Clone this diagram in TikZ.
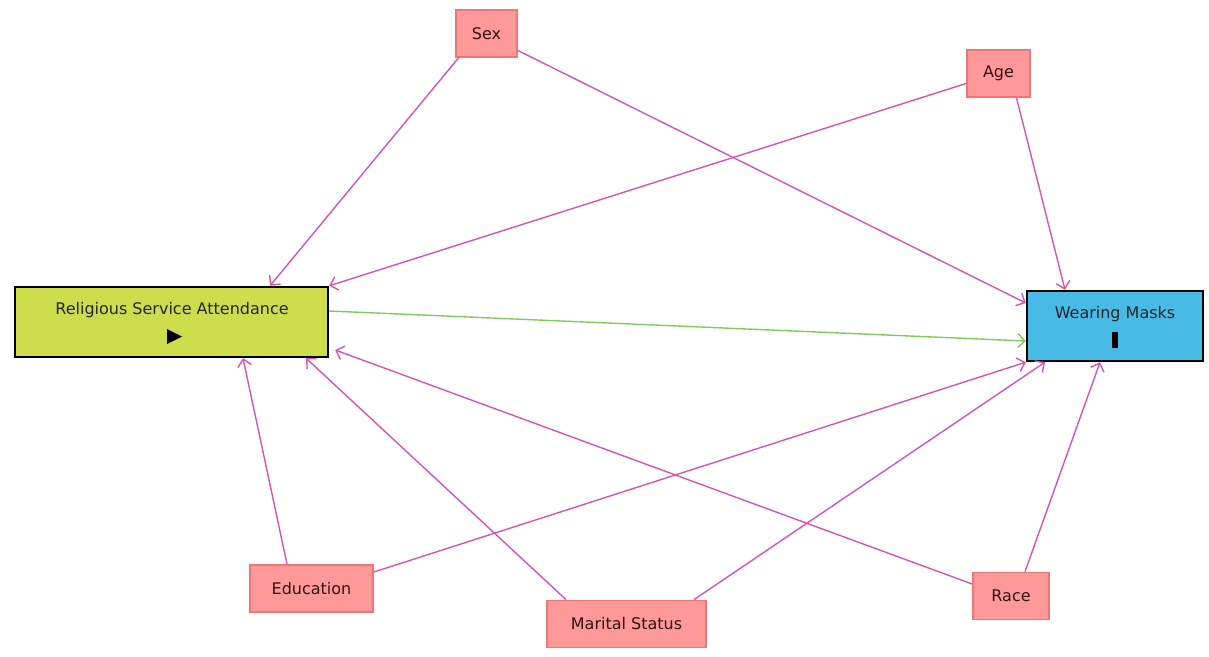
\documentclass[tikz,border=0pt]{standalone}
\usepackage{fontspec}
\setmainfont{DejaVu Sans}
\usetikzlibrary{arrows.meta}
\definecolor{relfill}{RGB}{206,221,75}
\definecolor{wearfill}{RGB}{72,186,230}
\definecolor{covfill}{RGB}{255,152,152}
\definecolor{covdraw}{RGB}{240,118,118}
\definecolor{covtext}{RGB}{50,20,20}
\definecolor{pinkarrow}{RGB}{214,84,178}
\definecolor{greenarrow}{RGB}{128,204,88}
\tikzset{
  mainbox/.style={draw=black, line width=2.4pt, minimum height=70pt, inner sep=0pt},
  covbox/.style={draw=covdraw, fill=covfill, line width=1.8pt, minimum height=47pt, inner sep=0pt, text=covtext, font=\fontsize{16}{19}\selectfont},
  mainlabel/.style={font=\fontsize{16}{19}\selectfont, text=black!85},
  pinkedge/.style={draw=pinkarrow, line width=1.4pt, -{Straight Barb[length=7pt,width=14pt]}},
  greenedge/.style={draw=greenarrow, line width=1.4pt, -{Straight Barb[length=7pt,width=14pt]}}
}
\begin{document}
\begin{tikzpicture}[x=1pt,y=-1pt]
\useasboundingbox (0,0) rectangle (1209,656);
\node[mainbox, fill=relfill, minimum width=313pt] (rel) at (171.5,322) {};
\node[mainlabel] (reltext) at (172,310) {Religious Service Attendance};
\fill (167,329) -- (182,336.5) -- (167,344) -- cycle;
\node[mainbox, fill=wearfill, minimum width=176pt] (wear) at (1115,326) {};
\node[mainlabel] (weartext) at (1115,314) {Wearing Masks};
\fill (1112,332) rectangle (1118,348);
\node[covbox, minimum width=61pt] (sex) at (486.5,33.5) {Sex};
\node[covbox, minimum width=63pt] (age) at (998.5,73.5) {Age};
\node[covbox, minimum width=123pt] (edu) at (311.5,588.5) {Education};
\node[covbox, minimum width=159pt] (mar) at (626.5,624) {Marital Status};
\node[covbox, minimum width=76pt] (race) at (1011,596) {Race};
\draw[pinkedge] ([xshift=-28pt]sex.south) -- ([xshift=98.5pt]rel.north);
\draw[pinkedge] ([yshift=-17pt]sex.east) -- ([yshift=23pt]wear.west);
\draw[pinkedge] ([yshift=-10pt]age.west) -- (rel.north east);
\draw[pinkedge] ([xshift=18pt]age.south) -- ([xshift=-50pt]wear.north);
\draw[greenedge] ([yshift=11pt]rel.east) -- ([yshift=-15pt]wear.west);
\draw[pinkedge] ([xshift=-24.5pt]edu.north) -- ([xshift=71.5pt]rel.south);
\draw[pinkedge] ([yshift=16.5pt]edu.east) -- (wear.south west);
\draw[pinkedge] ([xshift=-60.5pt]mar.north) -- ([xshift=134.5pt]rel.south);
\draw[pinkedge] ([xshift=67.5pt]mar.north) -- ([xshift=-70pt]wear.south);
\draw[pinkedge] ([yshift=12pt]race.west) -- ([xshift=6pt,yshift=-28pt]rel.east);
\draw[pinkedge] ([xshift=14pt]race.north) -- ([xshift=-15pt]wear.south);
\end{tikzpicture}
\end{document}
